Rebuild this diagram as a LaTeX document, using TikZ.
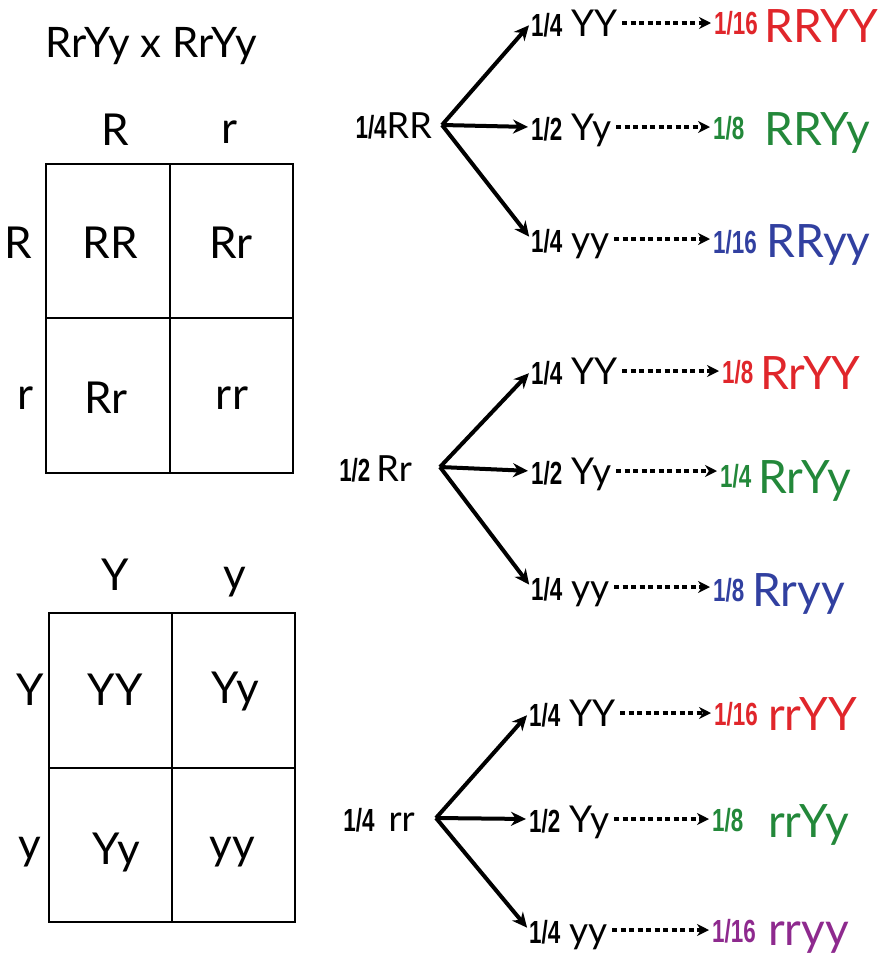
\documentclass[tikz,border=0pt]{standalone}
\usepackage{fontspec}
\usetikzlibrary{arrows.meta}
\newfontfamily\genofont{Lato}
\newfontfamily\fracfont[FakeStretch=0.7]{Liberation Sans}
\newcommand\frc[1]{{\fracfont\bfseries\fontsize{32}{32}\selectfont #1}}
\definecolor{rred}{HTML}{E0262B}
\definecolor{rgreen}{HTML}{23883A}
\definecolor{rblue}{HTML}{3140A0}
\definecolor{rpurple}{HTML}{8E2A8E}
\tikzset{
  title/.style={font=\genofont\fontsize{42}{46}\selectfont, inner sep=0pt},
  sq/.style={font=\genofont\fontsize{44}{48}\selectfont, inner sep=0pt},
  parent/.style={font=\genofont\fontsize{36}{40}\selectfont, inner sep=0pt, text height=26pt, text depth=0pt, anchor=base east},
  child/.style={font=\genofont\fontsize{37}{40}\selectfont, inner sep=0pt, text height=26pt, text depth=0pt, anchor=base west},
  rfrac/.style={font=\fracfont\bfseries\fontsize{32}{32}\selectfont, inner sep=0pt, text height=22pt, text depth=0pt, anchor=base west},
  rgen/.style={font=\genofont\fontsize{46}{50}\selectfont, inner sep=0pt, anchor=base west},
  gridline/.style={line width=2.4pt},
  branch/.style={line width=4pt, -{Stealth[length=15pt,width=14pt]}, shorten >=3pt},
  dots/.style={line width=3.2pt, dash pattern=on 5pt off 3.5pt, -{Stealth[length=12pt,width=12pt]}, shorten <=4pt, shorten >=3pt}
}
\begin{document}
\begin{tikzpicture}[x=1pt,y=-1pt]
\useasboundingbox (0,0) rectangle (896,956);

% ---------- title ----------
\node[title, anchor=base] (title) at (151,57) {RrYy x RrYy};

% ---------- Punnett square 1 ----------
\draw[gridline] (46,164) rectangle (293,473);
\draw[gridline] (170,164) -- (170,473);
\draw[gridline] (46,318) -- (293,318);
\node[sq] (h1R) at (115,130) {R};
\node[sq] (h1r) at (230,132) {r};
\node[sq] (v1R) at (18,243) {R};
\node[sq] (v1r) at (26,398) {r};
\node[sq] (cRR) at (110,243) {RR};
\node[sq] (cRr1) at (231,243) {Rr};
\node[sq] (cRr2) at (106,398) {Rr};
\node[sq] (crr) at (232,398) {rr};

% ---------- Punnett square 2 ----------
\draw[gridline] (49,613) rectangle (295,922);
\draw[gridline] (172,613) -- (172,922);
\draw[gridline] (49,768) -- (295,768);
\node[sq] (h2Y) at (115,575) {Y};
\node[sq] (h2y) at (235,582) {y};
\node[sq] (v2Y) at (30,690) {Y};
\node[sq] (v2y) at (30,852) {y};
\node[sq] (cYY) at (115,690) {YY};
\node[sq] (cYy1) at (235,692) {Yy};
\node[sq] (cYy2) at (116,852) {Yy};
\node[sq] (cyy) at (232,852) {yy};

% ---------- group 1 : 1/4 RR ----------
\node[parent] (p1) at (432,138) {\frc{1/4}RR};
\coordinate (b1) at (442,125);
\node[child] (c11) at (531,36) {\frc{1/4} YY};
\node[child] (c12) at (531,140) {\frc{1/2} Yy};
\node[child] (c13) at (531,252) {\frc{1/4} yy};
\draw[branch] (b1) -- (c11.west);
\draw[branch] (b1) -- (c12.west);
\draw[branch] (b1) -- (c13.west);
\node[rfrac, text=rred] (f11) at (714,34) {1/16};
\node[rgen, text=rred] (g11) at (764,42) {RRYY};
\node[rfrac, text=rgreen] (f12) at (713,139) {1/8};
\node[rgen, text=rgreen] (g12) at (764,145) {RRYy};
\node[rfrac, text=rblue] (f13) at (713,253) {1/16};
\node[rgen, text=rblue] (g13) at (766,257) {RRyy};
\draw[dots] (c11.east) -- (c11.east -| f11.west);
\draw[dots] (c12.east) -- (c12.east -| f12.west);
\draw[dots] (c13.east) -- (c13.east -| f13.west);

% ---------- group 2 : 1/2 Rr ----------
\node[parent] (p2) at (412,481) {\frc{1/2}\,Rr};
\coordinate (b2) at (440,467);
\node[child] (c21) at (531,384) {\frc{1/4} YY};
\node[child] (c22) at (531,484) {\frc{1/2} Yy};
\node[child] (c23) at (531,600) {\frc{1/4} yy};
\draw[branch] (b2) -- (c21.west);
\draw[branch] (b2) -- (c22.west);
\draw[branch] (b2) -- (c23.west);
\node[rfrac, text=rred] (f21) at (722,383) {1/8};
\node[rgen, text=rred] (g21) at (760,389) {RrYY};
\node[rfrac, text=rgreen] (f22) at (720,487) {1/4};
\node[rgen, text=rgreen] (g22) at (758,493) {RrYy};
\node[rfrac, text=rblue] (f23) at (713,601) {1/8};
\node[rgen, text=rblue] (g23) at (752,606) {Rryy};
\draw[dots] (c21.east) -- (c21.east -| f21.west);
\draw[dots] (c22.east) -- (c22.east -| f22.west);
\draw[dots] (c23.east) -- (c23.east -| f23.west);

% ---------- group 3 : 1/4 rr ----------
\node[parent] (p3) at (415,831) {\frc{1/4}\hspace{14pt}rr};
\coordinate (b3) at (436,818);
\node[child] (c31) at (529,726) {\frc{1/4} YY};
\node[child] (c32) at (529,832) {\frc{1/2} Yy};
\node[child] (c33) at (529,943) {\frc{1/4} yy};
\draw[branch] (b3) -- (c31.west);
\draw[branch] (b3) -- (c32.west);
\draw[branch] (b3) -- (c33.west);
\node[rfrac, text=rred] (f31) at (714,725) {1/16};
\node[rgen, text=rred] (g31) at (768,730) {rrYY};
\node[rfrac, text=rgreen] (f32) at (712,831) {1/8};
\node[rgen, text=rgreen] (g32) at (768,837) {rrYy};
\node[rfrac, text=rpurple] (f33) at (712,942) {1/16};
\node[rgen, text=rpurple] (g33) at (768,945) {rryy};
\draw[dots] (c31.east) -- (c31.east -| f31.west);
\draw[dots] (c32.east) -- (c32.east -| f32.west);
\draw[dots] (c33.east) -- (c33.east -| f33.west);
\end{tikzpicture}
\end{document}
